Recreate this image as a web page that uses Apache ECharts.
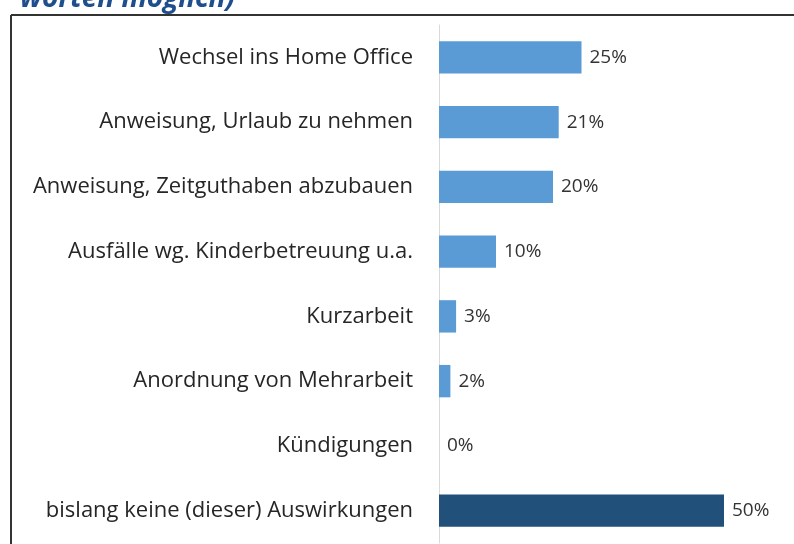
<!DOCTYPE html>
<html>
<head>
<meta charset="utf-8">
<title>Auswirkungen</title>
<script src="https://cdn.jsdelivr.net/npm/echarts@6/dist/echarts.min.js"></script>
<style>
  html, body { margin: 0; padding: 0; background: #fff; }
  #chart { width: 794px; height: 544px; }
</style>
</head>
<body>
<div id="chart"></div>
<script>
  // Kategorien von oben nach unten
  var categories = [
    'Wechsel ins Home Office',
    'Anweisung, Urlaub zu nehmen',
    'Anweisung, Zeitguthaben abzubauen',
    'Ausfälle wg. Kinderbetreuung u.a.',
    'Kurzarbeit',
    'Anordnung von Mehrarbeit',
    'Kündigungen',
    'bislang keine (dieser) Auswirkungen'
  ];
  var values = [25, 21, 20, 10, 3, 2, 0, 50];
  var highlightIndex = 7; // dunkler Balken

  var chart = echarts.init(document.getElementById('chart'));

  var barData = values.map(function (v, i) {
    return {
      value: v,
      itemStyle: { color: i === highlightIndex ? '#21507a' : '#5b9bd5' }
    };
  });

  chart.setOption({
    backgroundColor: '#fff',
    animation: false,
    grid: { left: 439, right: 70, top: 25, bottom: 1, containLabel: false },
    xAxis: {
      type: 'value',
      min: 0,
      max: 50,
      show: false
    },
    yAxis: {
      type: 'category',
      inverse: true,
      data: categories,
      axisLine: { show: true, lineStyle: { color: '#d9d9d9', width: 1 } },
      axisTick: { show: false },
      axisLabel: {
        margin: 26,
        color: '#262626',
        fontFamily: 'Open Sans',
        fontSize: 22
      }
    },
    series: [{
      type: 'bar',
      data: barData,
      barWidth: '50%',
      label: {
        show: true,
        position: 'right',
        distance: 8,
        color: '#333',
        fontFamily: 'Open Sans',
        fontSize: 19,
        formatter: '{c}%'
      }
    }],
    graphic: [
      {
        type: 'text',
        style: {
          x: 20,
          y: 13,
          verticalAlign: 'bottom',
          text: 'worten möglich)',
          fill: '#1f4e8c',
          font: 'italic bold 28px "Open Sans"'
        }
      },
      {
        type: 'line',
        shape: { x1: 11, y1: 15, x2: 794, y2: 15 },
        style: { stroke: '#333', lineWidth: 2 }
      },
      {
        type: 'line',
        shape: { x1: 11, y1: 15, x2: 11, y2: 544 },
        style: { stroke: '#333', lineWidth: 2 }
      }
    ]
  });
</script>
</body>
</html>
